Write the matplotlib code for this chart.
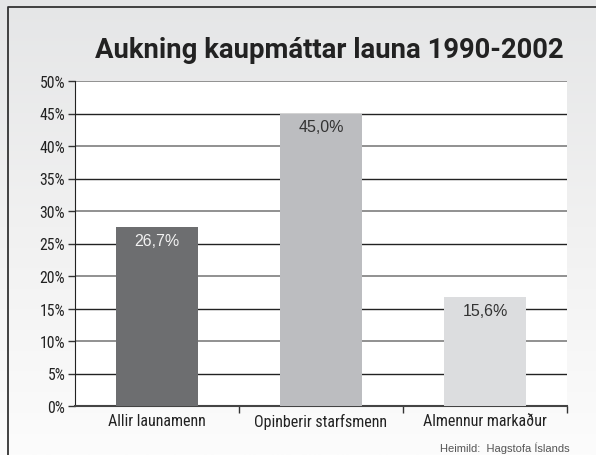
import numpy as np
import matplotlib
matplotlib.use("Agg")
import matplotlib.pyplot as plt
from matplotlib import font_manager

categories = ["Allir launamenn", "Opinberir starfsmenn", "Almennur markaður"]
bar_heights = [27.5, 45.0, 16.7]   # heights as drawn in the chart
bar_labels = ["26,7%", "45,0%", "15,6%"]
bar_colors = ["#6d6e70", "#bcbdc0", "#dcdddf"]
label_colors = ["#f2f2f2", "#333333", "#333333"]
yticks = [0, 5, 10, 15, 20, 25, 30, 35, 40, 45, 50]

names = {f.name for f in font_manager.fontManager.ttflist}
narrow = [n for n in ["Liberation Sans Narrow", "DejaVu Sans Condensed", "Roboto Condensed"] if n in names]
plt.rcParams['font.family'] = narrow + ['DejaVu Sans']

fig = plt.figure(figsize=(5.96, 4.56), dpi=100)

# background gradient + frame
bg = fig.add_axes([0, 0, 1, 1], zorder=-10)
grad = np.linspace(0, 1, 256).reshape(-1, 1)
cmap = matplotlib.colors.LinearSegmentedColormap.from_list("bg", ["#e5e6e7", "#f1f1f1", "#fcfcfc"])
bg.imshow(grad, aspect="auto", cmap=cmap, extent=[0, 1, 0, 1], origin="upper")
bg.plot([8/596, 8/596, 1.0], [0, 1 - 8/456, 1 - 8/456], color="#333333", lw=1.3)
bg.set_xlim(0, 1)
bg.set_ylim(0, 1)
bg.axis("off")

ax = fig.add_axes([75/596, 1 - 407/456, 492/596, 325/456])
ax.set_facecolor("white")
x = np.arange(len(categories))
ax.bar(x, bar_heights, width=0.5, color=bar_colors, zorder=3)

for i, (h, lab) in enumerate(zip(bar_heights, bar_labels)):
    ax.text(i, h - 2.0, lab, ha="center", va="center", fontsize=11.5,
            color=label_colors[i], family=["Liberation Sans", "DejaVu Sans"], zorder=4)

for v in yticks[1:]:
    ax.axhline(v, color="#888888" if v % 10 == 0 else "#222222",
               lw=1.3 if v % 10 == 0 else 1.0, zorder=1)

ax.set_xlim(-0.5, 2.5)
ax.set_ylim(0, 50)
ax.set_yticks(yticks)
ax.set_yticklabels([f"{v}%" for v in yticks], fontsize=11.3, color="#222222")
ax.set_xticks([0.5, 1.5, 2.5])
ax.set_xticklabels([])
ax.set_xticks(x, minor=True)
ax.set_xticklabels(categories, minor=True, fontsize=11.5, color="#222222")
ax.tick_params(axis="x", which="minor", length=0, pad=5)
ax.tick_params(axis="x", which="major", length=5, width=1, color="#333333")
ax.tick_params(axis="y", length=5, width=1, color="#333333", pad=2)
for s in ["top", "right"]:
    ax.spines[s].set_visible(False)
ax.spines["left"].set_color("#222222")
ax.spines["bottom"].set_color("#444444")
ax.spines["bottom"].set_linewidth(1.5)

fig.text(564/596, 1 - 58/456, "Aukning kaupmáttar launa 1990-2002", ha="right", va="baseline",
         fontsize=19.8, fontweight="bold", color="#222222", family=["Roboto", "DejaVu Sans"])
fig.text(570/596, 1 - 448/456, "Heimild:  Hagstofa Íslands", ha="right", va="center",
         fontsize=8, color="#555555", family=["Liberation Sans", "DejaVu Sans"])

fig.savefig("out.png", dpi=100)
